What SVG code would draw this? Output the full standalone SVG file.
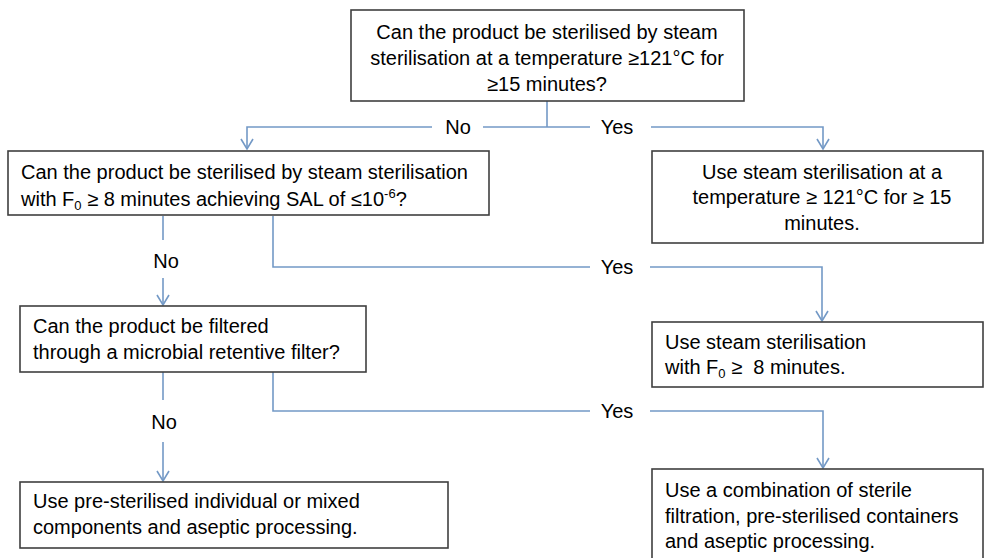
<svg xmlns="http://www.w3.org/2000/svg" width="985" height="558" viewBox="0 0 985 558">
<style>
.box{fill:#fff;stroke:#3f3f3f;stroke-width:1.6}
.t{font-family:"Liberation Sans",Arial,sans-serif;font-size:20px;fill:#000}
.c{text-anchor:middle}
.ln{fill:none;stroke:#7399c6;stroke-width:1.6}
.sub{font-size:13px}
</style>
<defs>
<marker id="arr" markerUnits="userSpaceOnUse" markerWidth="14" markerHeight="16" refX="11" refY="7" orient="auto" viewBox="0 0 14 16">
<path d="M1,1 L11,7 L1,13" fill="none" stroke="#7399c6" stroke-width="1.6"/>
</marker>
</defs>
<rect width="985" height="558" fill="#fff"/>
<g id="connectors">
<path class="ln" d="M547,101 V127"/>
<path class="ln" d="M432,127 H247 V149" marker-end="url(#arr)"/>
<path class="ln" d="M483,127 H590"/>
<path class="ln" d="M651,127 H823 V149" marker-end="url(#arr)"/>
<path class="ln" d="M163,216 V240"/>
<path class="ln" d="M163,278 V305" marker-end="url(#arr)"/>
<path class="ln" d="M273,216 V267 H590"/>
<path class="ln" d="M650,267 H822 V321" marker-end="url(#arr)"/>
<path class="ln" d="M163,372 V400"/>
<path class="ln" d="M163,442 V481" marker-end="url(#arr)"/>
<path class="ln" d="M273,372 V411 H590"/>
<path class="ln" d="M650,411 H823 V468" marker-end="url(#arr)"/>
<text class="t c" x="458" y="134">No</text>
<text class="t c" x="617" y="134">Yes</text>
<text class="t c" x="166" y="268">No</text>
<text class="t c" x="617" y="274">Yes</text>
<text class="t c" x="164" y="429">No</text>
<text class="t c" x="617" y="418">Yes</text>
</g>
<g id="q1">
<rect class="box" x="351" y="10" width="393" height="91"/>
<text class="t c" x="547" y="39">Can the product be sterilised by steam</text>
<text class="t c" x="547" y="65">sterilisation at a temperature ≥121°C for</text>
<text class="t c" x="547" y="91">≥15 minutes?</text>
</g>
<g id="q2">
<rect class="box" x="8" y="151" width="481" height="64"/>
<text class="t" x="21" y="179">Can the product be sterilised by steam sterilisation</text>
<text class="t" x="21" y="206">with F<tspan class="sub" dy="4">0</tspan><tspan dy="-4"> ≥ 8 minutes achieving SAL of ≤10</tspan><tspan class="sub" dy="-8">-6</tspan><tspan dy="8">?</tspan></text>
</g>
<g id="a1">
<rect class="box" x="652" y="151" width="331" height="92"/>
<text class="t c" x="822" y="179">Use steam sterilisation at a</text>
<text class="t c" x="822" y="204">temperature ≥ 121°C for ≥ 15</text>
<text class="t c" x="822" y="230">minutes.</text>
</g>
<g id="a2">
<rect class="box" x="652" y="322" width="331" height="65"/>
<text class="t" x="665" y="349">Use steam sterilisation</text>
<text class="t" x="665" y="374">with F<tspan class="sub" dy="4">0</tspan><tspan dy="-4"> ≥&#160; 8 minutes.</tspan></text>
</g>
<g id="q3">
<rect class="box" x="20" y="306" width="346" height="66"/>
<text class="t" x="33" y="333">Can the product be filtered</text>
<text class="t" x="33" y="359">through a microbial retentive filter?</text>
</g>
<g id="a4">
<rect class="box" x="20" y="482" width="428" height="66"/>
<text class="t" x="33" y="508">Use pre-sterilised individual or mixed</text>
<text class="t" x="33" y="534">components and aseptic processing.</text>
</g>
<g id="a3">
<rect class="box" x="652" y="469" width="331" height="95"/>
<text class="t" x="665" y="497">Use a combination of sterile</text>
<text class="t" x="665" y="523">filtration, pre-sterilised containers</text>
<text class="t" x="665" y="548">and aseptic processing.</text>
</g>
</svg>
